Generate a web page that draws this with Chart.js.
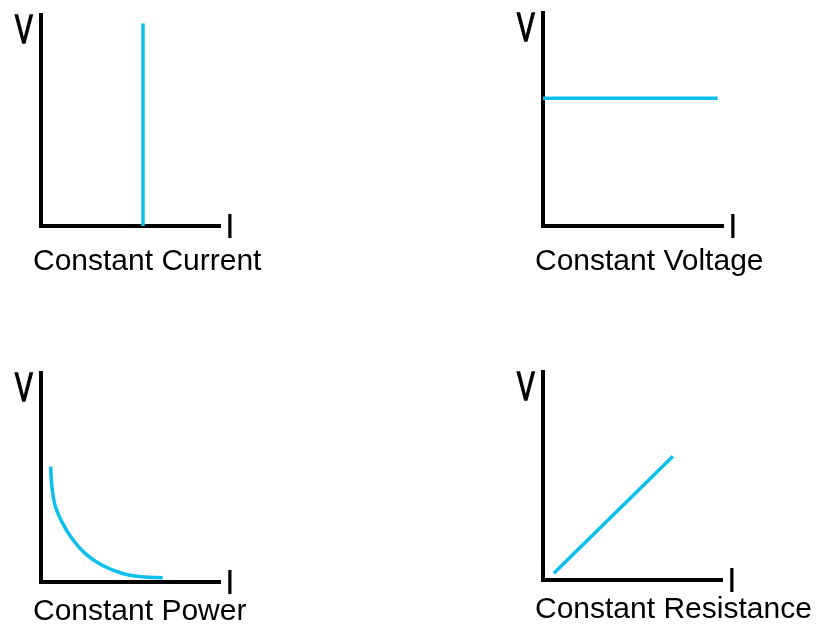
<!DOCTYPE html>
<html>
<head>
<meta charset="utf-8">
<script src="https://cdn.jsdelivr.net/npm/chart.js@4.4.1/dist/chart.umd.min.js"></script>
<style>
  html, body { margin: 0; padding: 0; background: #ffffff; }
  body { width: 816px; height: 626px; position: relative; overflow: hidden; }
  .panel { position: absolute; width: 408px; height: 313px; }
</style>
</head>
<body>
<div class="panel" style="left:0;top:0"><canvas id="c1" width="408" height="313"></canvas></div>
<div class="panel" style="left:408px;top:0"><canvas id="c2" width="408" height="313"></canvas></div>
<div class="panel" style="left:0;top:313px"><canvas id="c3" width="408" height="313"></canvas></div>
<div class="panel" style="left:408px;top:313px"><canvas id="c4" width="408" height="313"></canvas></div>
<script>
// Panel captions and axis letters
const captions = ["Constant Current", "Constant Voltage", "Constant Power", "Constant Resistance"];
const yAxisLabel = "V";
const xAxisLabel = "I";

// Series values (axis units 0..10 for both I and V)
const currentI = [5.7, 5.7];
const currentV = [0, 9.6];

const voltageI = [0, 9.7];
const voltageV = [6.0, 6.0];

const powerI = [0.54, 0.60, 0.78, 1.16, 1.72, 2.46, 3.39, 4.51, 5.63, 6.80];
const powerV = [5.52, 4.64, 3.68, 2.89, 2.09, 1.37, 0.81, 0.42, 0.25, 0.20];

const resistI = [0.61, 7.26];
const resistV = [0.33, 5.95];

const LINE = '#0cc0ee';

function pts(xs, ys) { return xs.map((x, i) => ({ x: x, y: ys[i] })); }

const labelPlugin = {
  id: 'panelLabels',
  afterDraw(chart, args, opts) {
    const ctx = chart.ctx;
    const a = chart.chartArea;
    ctx.save();
    ctx.fillStyle = '#000';
    ctx.strokeStyle = '#000';
    ctx.textBaseline = 'alphabetic';
    // V
    ctx.save();
    ctx.font = '40px "Liberation Sans", Arial, sans-serif';
    ctx.translate(a.left - 26, a.top + 28);
    ctx.scale(0.66, 1);
    ctx.lineWidth = 1.6;
    ctx.fillText(yAxisLabel, 0, 0);
    ctx.strokeText(yAxisLabel, 0, 0);
    ctx.restore();
    // I
    ctx.save();
    ctx.font = '35px "Liberation Sans", Arial, sans-serif';
    ctx.fillText(xAxisLabel, a.right + 5, a.bottom + 12);
    ctx.restore();
    // caption
    ctx.font = '30px "Liberation Sans", Arial, sans-serif';
    ctx.fillText(opts.caption, a.left - 8, a.bottom + opts.capOffset);
    ctx.restore();
  }
};

function makeChart(id, data, tension, pad, caption, capOffset) {
  return new Chart(document.getElementById(id), {
    type: 'scatter',
    data: {
      datasets: [{
        data: data,
        showLine: true,
        borderColor: LINE,
        borderWidth: 3.5,
        pointRadius: 0,
        pointHoverRadius: 0,
        tension: tension,
        cubicInterpolationMode: 'default',
        fill: false,
        clip: false
      }]
    },
    options: {
      responsive: false,
      animation: false,
      events: [],
      layout: { padding: pad },
      plugins: {
        legend: { display: false },
        tooltip: { enabled: false },
        title: { display: false },
        panelLabels: { caption: caption, capOffset: capOffset }
      },
      scales: {
        x: {
          type: 'linear', min: 0, max: 10,
          ticks: { display: false },
          grid: { display: false, drawTicks: false },
          border: { display: true, color: '#000', width: 4 }
        },
        y: {
          type: 'linear', min: 0, max: 10,
          ticks: { display: false },
          grid: { display: false, drawTicks: false },
          border: { display: true, color: '#000', width: 4 }
        }
      }
    },
    plugins: [labelPlugin]
  });
}

// panel 1: area x 41..220, y 15..226
makeChart('c1', pts(currentI, currentV), 0, { left: 41, right: 408 - 220, top: 15, bottom: 313 - 226 }, captions[0], 44);
// panel 2: area x 543..723, y 13..226 (canvas offset 408)
makeChart('c2', pts(voltageI, voltageV), 0, { left: 543 - 408, right: 816 - 723, top: 13, bottom: 313 - 226 }, captions[1], 44);
// panel 3: area x 41..220, y 373..582 (canvas offset 313)
makeChart('c3', pts(powerI, powerV), 0.4, { left: 41, right: 408 - 220, top: 373 - 313, bottom: 626 - 582 }, captions[2], 38);
// panel 4: area x 543..722, y 372..580
makeChart('c4', pts(resistI, resistV), 0, { left: 543 - 408, right: 816 - 722, top: 372 - 313, bottom: 626 - 580 }, captions[3], 38);
</script>
</body>
</html>
